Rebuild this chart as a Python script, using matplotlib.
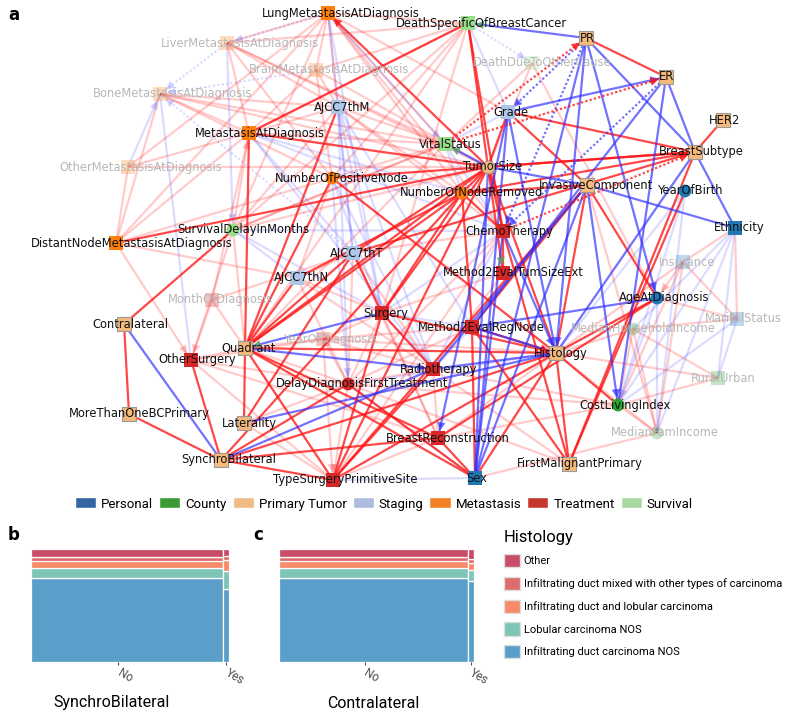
import numpy as np
import matplotlib
matplotlib.use("Agg")
import matplotlib.pyplot as plt
from matplotlib.patches import Patch, FancyArrowPatch

# ---------------- data ----------------
node_ids = ['Lung','Liver','Brain','Bone','OtherMet','Met','DistNode','NPos','NRem',
            'M','T','N','Grade','DSpec','DOther','Vital','SurvDelay',
            'PR','ER','HER2','Subtype','TSize','Invasive','Hist','FirstMal','Contra','MoreBC','Lat','Synchro','Quad',
            'YOB','Eth','Age','Sex','Ins','Marital',
            'CLI','MHI','MFI','Rural',
            'Chemo','EvalTS','EvalRN','Surg','Radio','Recon','TypeSurg','OtherSurg','Delay','Month','YOD']
node_labels = ['LungMetastasisAtDiagnosis','LiverMetastasisAtDiagnosis','BrainMetastasisAtDiagnosis',
               'BoneMetastasisAtDiagnosis','OtherMetastasisAtDiagnosis','MetastasisAtDiagnosis',
               'DistantNodeMetastasisAtDiagnosis','NumberOfPositiveNode','NumberOfNodeRemoved',
               'AJCC7thM','AJCC7thT','AJCC7thN','Grade','DeathSpecificOfBreastCancer','DeathDueToOtherCause',
               'VitalStatus','SurvivalDelayInMonths',
               'PR','ER','HER2','BreastSubtype','TumorSize','InvasiveComponent','Histology','FirstMalignantPrimary',
               'Contralateral','MoreThanOneBCPrimary','Laterality','SynchroBilateral','Quadrant',
               'YearOfBirth','Ethnicity','AgeAtDiagnosis','Sex','Insurance','MaritalStatus',
               'CostLivingIndex','MedianHouseholdIncome','MedianFamIncome','RuralUrban',
               'ChemoTherapy','Method2EvalTumSizeExt','Method2EvalRegNode','Surgery','Radiotherapy',
               'BreastReconstruction','TypeSurgeryPrimitiveSite','OtherSurgery','DelayDiagnosisFirstTreatment',
               'MonthOfDiagnosis','YearOfDiagnosis']
node_x = [328,227,316,160,128,249,116,332,462,
          338,353,297,508,468,532,445,233,
          586,666,723,695,488,587,556,569,124,129,244,221,245,
          685,735,657,475,683,737,
          618,633,657,718,
          503,503,472,382,433,438,333,191,348,212,323]
node_y = [13,43,70,94,167,133,243,178,193,
          107,253,278,112,23,63,144,230,
          38,77,120,152,167,185,353,464,324,414,423,460,348,
          191,228,298,478,262,319,
          405,329,433,378,
          231,273,327,313,369,438,480,360,384,300,339]
node_group = ['Metastasis']*9 + ['Staging']*4 + ['Survival']*4 + ['Primary Tumor']*13 + \
             ['Personal']*6 + ['County']*4 + ['Treatment']*11
node_shape = ['s','s','s','s','s','s','s','o','o',
              's','s','s','s','s','s','s','o',
              's','s','s','s','o','s','s','s','s','s','s','s','s',
              'o','s','o','s','s','s',
              'o','o','o','s',
              's','s','s','s','s','s','s','s','o','s','s']
faded_nodes = ['Liver','Brain','Bone','OtherMet','DOther','Ins','Marital','MHI','MFI','Rural','Month','YOD']

group_names = ['Personal','County','Primary Tumor','Staging','Metastasis','Treatment','Survival']
group_node_colors = ['#1f77b4','#2ca02c','#f5b97c','#aec7e8','#ff7f0e','#d62728','#98df8a']
group_legend_colors = ['#3465a4','#3a9a35','#edbd85','#adbbdf','#f28126','#c3372e','#a8d9a0']

# edges: (from, to, kind)  R strong red, B strong blue, r faint red, b faint blue,
# ':' dotted, '>' arrow at 'to', 'G' green arrowhead
edges = [
 ('TSize','Lung','R>'),('TSize','Met','R'),('TSize','DistNode','R'),('TSize','Grade','R'),
 ('TSize','NRem','R'),('TSize','Chemo','R'),('TSize','EvalTS','R>G'),('TSize','Quad','R'),
 ('TSize','T','R'),('TSize','Surg','R'),('TSize','Hist','R'),('TSize','Subtype','R'),
 ('TSize','TypeSurg','R'),('DSpec','TSize','R'),
 ('Quad','Met','R'),('Quad','M','R'),('Quad','NPos','R'),('Quad','T','R'),('Quad','N','R'),
 ('Quad','NRem','R'),('Quad','Lat','R'),('Quad','Hist','R'),('Quad','TypeSurg','R'),
 ('Quad','Recon','R'),('Quad','Sex','R'),
 ('Grade','Subtype','R'),('Grade','Invasive','R'),('PR','ER','R'),('HER2','Subtype','R'),
 ('Subtype','FirstMal','R'),('Subtype','NRem','R'),('Subtype','T','R'),('Subtype','NPos','R'),
 ('Invasive','Age','R'),('Invasive','Hist','R'),('Invasive','EvalRN','R'),('Invasive','NRem','R'),
 ('Invasive','TypeSurg','R'),
 ('Hist','Age','R'),('Hist','CLI','R'),('Hist','FirstMal','R'),('Hist','Sex','R'),('Hist','Synchro','R'),
 ('Hist','Surg','R'),('Hist','NPos','R'),('EvalRN','Hist','R>'),('Hist','TypeSurg','R'),
 ('YOB','FirstMal','R'),('Contra','MoreBC','R'),('Contra','SurvDelay','R'),
 ('Synchro','MoreBC','R'),('Synchro','OtherSurg','R'),('Synchro','TypeSurg','R'),('Synchro','Recon','R'),
 ('Synchro','Delay','R'),('Lat','T','R'),
 ('Chemo','EvalTS','R'),('Chemo','NRem','R'),('Chemo','FirstMal','R'),
 ('EvalRN','NRem','R'),('EvalRN','Sex','R'),('EvalRN','FirstMal','R'),
 ('Recon','Sex','R'),('Delay','Sex','R'),('TypeSurg','Surg','R'),('TypeSurg','Radio','R'),
 ('Surg','T','R'),('Surg','NRem','R'),('DSpec','Chemo','R'),('NRem','N','R'),('NRem','Synchro','R'),
 ('Radio','Surg','R'),('Age','Recon','R'),('Met','DSpec','R'),
 # strong blue
 ('Grade','ER','B>'),('PR','Grade','B:>'),('PR','Subtype','B'),('ER','Subtype','B'),
 ('PR','DSpec','B>G'),('PR','Hist','B>'),('PR','Age','B>'),('PR','Sex','B'),
 ('PR','Chemo','B:>'),('ER','Chemo','B:>'),('ER','CLI','B'),('ER','EvalRN','B'),
 ('Invasive','TSize','B'),('Invasive','Eth','B'),('Invasive','CLI','B>'),('Invasive','Sex','B'),
 ('Invasive','Radio','B'),('Subtype','Eth','B'),('Subtype','Hist','B'),
 ('TSize','Vital','B>G'),('Sex','Chemo','B'),('Sex','TSize','B'),
 ('Surg','Quad','B>G'),('Quad','Radio','B>'),('Synchro','Contra','B'),('Synchro','Radio','B'),
 ('Lat','Hist','B'),('Hist','Radio','B'),('Hist','EvalRN','B'),('Chemo','Hist','B>'),
 ('Grade','Recon','B>'),('Age','EvalRN','B'),('Grade','Hist','B'),('Sex','Grade','B'),
 # dotted red
 ('Vital','PR','R:>'),('Vital','ER','R:>'),('Chemo','Subtype','R:>'),
 # faint red
 ('Liver','Lung','r'),('Liver','Met','r'),('Liver','TSize','r'),('Liver','NPos','r'),('Liver','DSpec','r'),
 ('Liver','M','r'),('Liver','Vital','r'),
 ('Brain','Lung','r'),('Brain','Met','r'),('Brain','TSize','r'),('Brain','M','r'),('Brain','DSpec','r'),
 ('Brain','NPos','r'),
 ('Bone','Met','r'),('Bone','TSize','r'),('Bone','NPos','r'),('Bone','M','r'),('Bone','Vital','r'),
 ('Bone','DistNode','r'),
 ('OtherMet','Met','r'),('OtherMet','DistNode','r'),('OtherMet','TSize','r'),('OtherMet','Lung','r'),
 ('DistNode','Met','r'),('DistNode','Lung','r'),('DistNode','OtherSurg','r>'),('DistNode','N','r'),
 ('DistNode','NPos','r'),
 ('SurvDelay','Met','r>'),('SurvDelay','Lung','r'),('SurvDelay','TSize','r'),('SurvDelay','OtherSurg','r'),
 ('SurvDelay','DSpec','r'),('SurvDelay','Vital','r'),('SurvDelay','Quad','r'),
 ('Month','OtherSurg','r>'),('Month','T','r'),('Month','Met','r'),('Month','Quad','r'),
 ('YOD','Quad','r'),('YOD','Surg','r'),('YOD','Radio','r'),('YOD','Hist','r'),('YOD','Delay','r'),
 ('YOD','TypeSurg','r>'),('YOD','EvalRN','r'),('YOD','OtherSurg','r'),
 ('Ins','Age','r>'),('Ins','Eth','r'),('Ins','Marital','r'),('Ins','MFI','r'),('Ins','Hist','r'),('Ins','CLI','r'),
 ('Marital','Eth','r'),('Marital','Age','r'),('Marital','MHI','r'),
 ('MHI','CLI','r'),('MHI','MFI','r'),('MHI','Rural','r'),('MHI','Hist','r'),
 ('MFI','CLI','r'),('MFI','Hist','r'),('MFI','Sex','r'),('MFI','Invasive','r'),
 ('Rural','CLI','r'),('Rural','Hist','r'),
 ('DOther','TSize','r'),('DOther','Vital','r'),('DOther','Age','r'),
 ('Vital','Met','r'),('Vital','M','r'),('Vital','SurvDelay','r'),('Vital','NPos','r'),('Vital','Quad','r'),
 ('Vital','Lung','r'),
 ('Delay','Surg','r'),('Delay','Chemo','r'),('Delay','Radio','r'),('Delay','TypeSurg','r>'),('Delay','T','r'),
 ('Delay','N','r'),('Delay','Quad','r'),('Delay','OtherSurg','r'),('Delay','EvalRN','r'),
 ('M','Met','r'),('M','Lung','r'),('M','SurvDelay','r'),('M','NRem','r'),('M','Chemo','r'),
 ('Lung','DSpec','r'),('Lung','Grade','r'),('Lung','NRem','r'),('Lung','Chemo','r'),
 ('DSpec','Met','r'),('DSpec','NPos','r'),('DSpec','Quad','r'),('DSpec','Surg','r'),
 ('OtherSurg','Quad','r'),('OtherSurg','TypeSurg','r'),('OtherSurg','Recon','r'),
 ('TypeSurg','Recon','r'),('TypeSurg','Chemo','r'),('Recon','Radio','r'),('Recon','Surg','r'),
 ('Recon','Hist','r'),('Lat','TypeSurg','r'),('Lat','Delay','r'),
 ('N','T','r'),('N','NPos','r'),('N','Surg','r'),('N','Radio','r'),
 ('T','Chemo','r'),('T','Radio','r'),('T','Recon','r'),('EvalTS','Surg','r'),('EvalTS','Radio','r'),
 ('CLI','Recon','r'),('CLI','Radio','r'),('CLI','Delay','r'),('FirstMal','Delay','r'),('FirstMal','Radio','r'),
 # faint blue
 ('Lung','Liver','b:>'),('Liver','Bone','b:>'),('Brain','Bone','b:>'),('OtherMet','Bone','b>'),
 ('Liver','SurvDelay','b>'),('Bone','OtherSurg','b'),('T','Bone','b:>'),
 ('Lung','T','b'),('Lung','Vital','b>'),('Lung','Surg','b'),
 ('Met','T','b'),('Met','Chemo','b'),('Met','NRem','b'),('Met','Radio','b'),
 ('SurvDelay','N','b'),('SurvDelay','Surg','b'),('SurvDelay','Chemo','b'),
 ('Surg','Radio','b'),('Surg','Chemo','b'),('Surg','EvalRN','b'),
 ('Eth','CLI','b'),('Eth','MHI','b'),('Eth','Rural','b'),('Eth','MFI','b'),
 ('YOB','MFI','b'),('YOB','CLI','b'),('YOB','Hist','b'),('Age','MFI','b'),('Age','CLI','b>'),
 ('Hist','Age','b:'),('Grade','Vital','b'),('Vital','NRem','b'),('Vital','Chemo','b'),
 ('M','T','b'),('M','Surg','b'),('M','Radio','b'),('M','Delay','b>'),('M','EvalRN','b'),
 ('DSpec','DOther','b:>'),('DSpec','Grade','b'),
 ('NPos','Surg','b'),('NPos','Radio','b'),('NPos','Delay','b'),
 ('Delay','Hist','b'),('Delay','Sex','b'),('TypeSurg','Sex','b'),
 ('Marital','Rural','b'),('Marital','CLI','b'),('Radio','EvalRN','b'),('Chemo','Radio','b'),
]

hist_levels = ['Other','Infiltrating duct mixed with other types of carcinoma',
               'Infiltrating duct and lobular carcinoma','Lobular carcinoma NOS',
               'Infiltrating duct carcinoma NOS']
hist_colors = ['#c94d68','#e06b6b','#f68a69','#7dc5b6','#5a9fc9']
xcats = ['No','Yes']
# share of each column (No / Yes)
synchro_share = [0.972, 0.028]
contra_share = [0.967, 0.033]
# proportions top->bottom in hist_levels order for each column
synchro_props = {'No': [0.073, 0.036, 0.061, 0.091, 0.739],
                 'Yes': [0.061, 0.036, 0.097, 0.158, 0.648]}
contra_props = {'No': [0.067, 0.036, 0.061, 0.097, 0.739],
                'Yes': [0.091, 0.036, 0.055, 0.097, 0.721]}

# ---------------- figure ----------------
W, H = 790, 712
fig = plt.figure(figsize=(W/100, H/100), dpi=100)
ax = fig.add_axes([0, 0, 1, 1])
ax.set_xlim(0, W)
ax.set_ylim(H, 0)
ax.axis('off')

pos = {k: (x, y) for k, x, y in zip(node_ids, node_x, node_y)}
RED, BLUE, GREEN = '#ff1414', '#3030ff', '#5b9e5b'
styles = {'R': (RED, 0.78, 1.6, 4), 'B': (BLUE, 0.68, 1.6, 4),
          'r': (RED, 0.22, 1.6, 1), 'b': (BLUE, 0.17, 1.6, 1)}

def arrow_head(p0, p1, color, alpha, z):
    p0 = np.array(p0, float); p1 = np.array(p1, float)
    u = (p1 - p0) / np.linalg.norm(p1 - p0)
    end = p1 - u * 7.5
    start = end - u * 3
    ax.add_patch(FancyArrowPatch(start, end, arrowstyle='-|>', mutation_scale=15,
                                 color=color, alpha=alpha, lw=0, zorder=z,
                                 shrinkA=0, shrinkB=0))

for a, b, kind in edges:
    col, al, lw, z = styles[kind[0]]
    ls = (0, (1, 1)) if ':' in kind else '-'
    (x0, y0), (x1, y1) = pos[a], pos[b]
    ax.plot([x0, x1], [y0, y1], color=col, alpha=al, lw=lw, ls=ls, zorder=z,
            solid_capstyle='butt')
    if '>' in kind:
        hc = GREEN if 'G' in kind else col
        ha = 0.8 if 'G' in kind else min(1, al + 0.05)
        arrow_head((x0, y0), (x1, y1), hc, ha, z + 0.5)

gcol = dict(zip(group_names, group_node_colors))
for k, lab, x, y, g, sh in zip(node_ids, node_labels, node_x, node_y, node_group, node_shape):
    faded = k in faded_nodes
    al = 0.28 if faded else 1.0
    ec = '#9a9a9a' if g == 'Primary Tumor' else 'none'
    ax.scatter([x], [y], marker=sh, s=95 if sh == 's' else 85, color=gcol[g], alpha=al,
               edgecolors=ec, linewidths=0.8, zorder=6)
    ax.text(x + 0.5 * len(lab), y, lab, ha='center', va='center', fontsize=8.3,
            color='#b8b8b8' if faded else '#111111', zorder=7, family='DejaVu Sans')

ax.text(8, 15, 'a', fontsize=12, fontweight='bold', ha='left', va='center', family='DejaVu Sans')
ax.text(8, 535, 'b', fontsize=12, fontweight='bold', ha='left', va='center', family='DejaVu Sans')
ax.text(253, 535, 'c', fontsize=12, fontweight='bold', ha='left', va='center', family='DejaVu Sans')

narrow = ['Liberation Sans Narrow', 'Roboto', 'DejaVu Sans']

# group legend
handles = [Patch(facecolor=c, edgecolor='white', label=n) for n, c in zip(group_names, group_legend_colors)]
fig.legend(handles=handles, ncol=7, loc='center', bbox_to_anchor=(384 / W, 1 - 504 / H),
           frameon=False, prop={'family': narrow, 'size': 9.5}, handlelength=1.6, handleheight=0.9,
           handletextpad=0.38, columnspacing=0.45, borderpad=0)

# mosaic panels
def mosaic(left, right, shares, props, title, title_x):
    axm = fig.add_axes([left / W, 1 - 662 / H, (right - left) / W, (662 - 549) / H])
    axm.set_xlim(0, 1); axm.set_ylim(0, 1)
    x0 = 0
    centers = []
    for cat, sh in zip(xcats, shares):
        p = props[cat][::-1]
        cols = hist_colors[::-1]
        bottom = 0
        for v, c in zip(p, cols):
            axm.bar(x0, v / sum(p), width=sh, bottom=bottom, align='edge', color=c,
                    edgecolor='white', linewidth=0.9)
            bottom += v / sum(p)
        centers.append(x0 + sh / 2 - 0.045 * (sh > 0.5))
        x0 += sh
    for s in axm.spines.values():
        s.set_visible(False)
    axm.set_yticks([])
    axm.set_xticks(centers)
    axm.set_xticklabels(xcats, rotation=-30, ha='left', va='center', rotation_mode='anchor',
                        fontsize=8.5, color='#4d4d4d', family=narrow)
    axm.tick_params(axis='x', length=2.5, width=0.8, color='#4d4d4d', pad=5)
    fig.text(title_x / W, 1 - 703 / H, title, ha='center', va='center', fontsize=11.5, family=narrow)
    return axm

mosaic(31, 229, synchro_share, synchro_props, 'SynchroBilateral', 112)
mosaic(279, 474, contra_share, contra_props, 'Contralateral', 373)

hhandles = [Patch(facecolor=c, edgecolor='#dddddd', label=n) for n, c in zip(hist_levels, hist_colors)]
leg = fig.legend(handles=hhandles, loc='upper left', bbox_to_anchor=(498 / W, 1 - 524 / H),
                 frameon=False, title='Histology', prop={'family': narrow, 'size': 8.0},
                 title_fontproperties={'family': narrow, 'size': 12},
                 handlelength=1.45, handleheight=1.45, labelspacing=0.86, handletextpad=0.35,
                 borderpad=0)
leg._legend_box.align = 'left'

fig.savefig('out.png', dpi=100)
